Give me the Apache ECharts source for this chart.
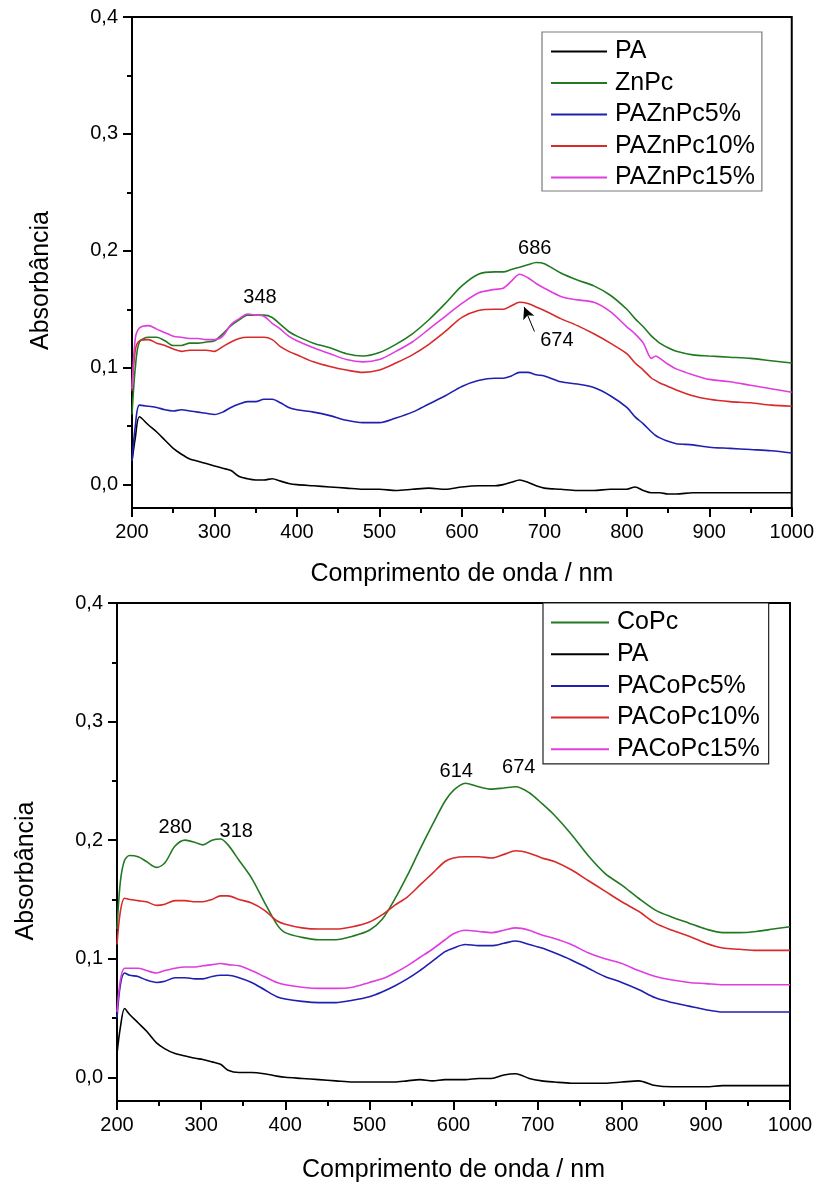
<!DOCTYPE html>
<html>
<head>
<meta charset="utf-8">
<script src="https://cdn.jsdelivr.net/npm/echarts@6/dist/echarts.min.js"></script>
<style>
  html, body { margin: 0; padding: 0; background: #fff; }
  #chart { width: 817px; height: 1184px; }
</style>
</head>
<body>
<div id="chart"></div>
<script>
// ---- UV-Vis spectra, ZnPc series (upper panel) ----
const wlTop = [200,204,209,220,230,240,250,260,270,280,290,300,310,320,330,340,350,360,370,380,390,400,
  420,440,460,480,500,520,540,560,580,600,620,640,650,660,670,680,690,700,720,740,760,780,800,810,820,830,
  835,840,850,860,880,900,925,950,975,1000];
const paTop = [0.020,0.040,0.058,0.051,0.045,0.038,0.031,0.026,0.022,0.020,0.018,0.016,0.014,0.012,0.007,0.005,
  0.004,0.004,0.005,0.003,0.001,0.000,-0.001,-0.002,-0.003,-0.004,-0.004,-0.005,-0.004,-0.003,-0.004,-0.002,
  -0.001,-0.001,0.000,0.002,0.004,0.002,-0.001,-0.003,-0.004,-0.005,-0.005,-0.004,-0.004,-0.002,-0.005,-0.007,
  -0.007,-0.007,-0.008,-0.008,-0.007,-0.007,-0.007,-0.007,-0.007,-0.007];
const znpc = [0.060,0.100,0.122,0.126,0.126,0.123,0.119,0.119,0.121,0.121,0.122,0.123,0.129,0.136,0.141,0.145,
  0.145,0.145,0.143,0.137,0.131,0.127,0.121,0.117,0.112,0.110,0.113,0.120,0.129,0.141,0.155,0.170,0.180,0.182,
  0.182,0.184,0.186,0.188,0.190,0.189,0.181,0.175,0.170,0.162,0.150,0.142,0.135,0.127,0.124,0.121,0.117,0.114,
  0.111,0.110,0.109,0.108,0.106,0.104];
const paZn5 = [0.020,0.050,0.068,0.067,0.066,0.064,0.063,0.064,0.063,0.062,0.061,0.060,0.062,0.066,0.069,0.071,
  0.071,0.073,0.073,0.070,0.066,0.064,0.062,0.059,0.055,0.053,0.053,0.057,0.062,0.069,0.076,0.084,0.089,0.091,
  0.091,0.093,0.096,0.096,0.094,0.093,0.088,0.086,0.083,0.076,0.066,0.058,0.052,0.045,0.042,0.040,0.037,0.035,
  0.034,0.032,0.031,0.030,0.029,0.027];
const paZn10 = [0.080,0.115,0.123,0.124,0.121,0.119,0.116,0.114,0.115,0.115,0.115,0.114,0.118,0.122,0.125,0.126,
  0.126,0.126,0.124,0.118,0.114,0.111,0.105,0.101,0.098,0.096,0.098,0.104,0.111,0.120,0.131,0.143,0.149,0.150,
  0.150,0.153,0.156,0.155,0.152,0.149,0.142,0.136,0.129,0.121,0.112,0.104,0.098,0.091,0.089,0.087,0.084,0.081,
  0.076,0.073,0.071,0.070,0.068,0.067];
const paZn15 = [0.082,0.125,0.134,0.136,0.133,0.130,0.127,0.126,0.125,0.125,0.124,0.124,0.127,0.137,0.142,0.146,
  0.145,0.144,0.138,0.133,0.127,0.123,0.117,0.112,0.107,0.105,0.107,0.114,0.122,0.133,0.144,0.155,0.164,0.167,
  0.168,0.174,0.180,0.177,0.172,0.168,0.161,0.158,0.156,0.148,0.135,0.129,0.121,0.108,0.110,0.108,0.103,0.099,
  0.094,0.090,0.088,0.085,0.082,0.079];

// ---- UV-Vis spectra, CoPc series (lower panel) ----
const wlBot = [200,204,209,215,225,235,247,257,269,281,293,302,313,323,332,345,360,375,390,400,420,440,460,480,
  500,515,530,545,560,575,590,600,614,630,645,660,674,690,705,720,740,760,780,800,820,840,860,880,900,920,940,
  960,980,1000];
const copc = [0.125,0.165,0.183,0.187,0.186,0.182,0.177,0.181,0.195,0.200,0.198,0.196,0.200,0.201,0.196,0.183,
  0.168,0.148,0.129,0.122,0.118,0.116,0.116,0.119,0.124,0.133,0.150,0.170,0.192,0.213,0.233,0.242,0.248,0.245,
  0.243,0.244,0.245,0.240,0.231,0.221,0.205,0.187,0.172,0.162,0.151,0.141,0.135,0.130,0.125,0.122,0.122,0.123,
  0.125,0.127];
const paBot = [0.020,0.042,0.058,0.053,0.046,0.039,0.029,0.024,0.020,0.018,0.016,0.015,0.013,0.011,0.006,0.004,
  0.004,0.003,0.001,0.000,-0.001,-0.002,-0.003,-0.004,-0.004,-0.004,-0.004,-0.003,-0.002,-0.003,-0.002,-0.002,
  -0.002,-0.001,-0.001,0.002,0.003,-0.001,-0.003,-0.004,-0.005,-0.005,-0.005,-0.004,-0.003,-0.007,-0.008,-0.008,
  -0.008,-0.007,-0.007,-0.007,-0.007,-0.007];
const paCo5 = [0.050,0.078,0.088,0.086,0.085,0.082,0.080,0.081,0.084,0.084,0.083,0.083,0.085,0.086,0.086,0.084,
  0.080,0.074,0.068,0.066,0.064,0.063,0.063,0.065,0.068,0.072,0.077,0.083,0.090,0.098,0.106,0.109,0.112,0.111,
  0.111,0.113,0.115,0.112,0.109,0.105,0.099,0.092,0.085,0.080,0.074,0.067,0.063,0.060,0.057,0.055,0.055,0.055,
  0.055,0.055];
const paCo10 = [0.112,0.140,0.151,0.150,0.149,0.148,0.145,0.146,0.149,0.149,0.148,0.148,0.150,0.153,0.153,0.150,
  0.147,0.141,0.132,0.129,0.126,0.125,0.125,0.127,0.131,0.137,0.145,0.152,0.162,0.172,0.182,0.185,0.186,0.186,
  0.185,0.188,0.191,0.189,0.185,0.182,0.175,0.166,0.157,0.148,0.140,0.130,0.124,0.119,0.113,0.109,0.108,0.107,
  0.107,0.107];
const paCo15 = [0.055,0.082,0.092,0.092,0.092,0.090,0.088,0.090,0.092,0.093,0.093,0.094,0.095,0.096,0.095,0.094,
  0.090,0.085,0.080,0.078,0.076,0.075,0.075,0.076,0.080,0.083,0.088,0.094,0.101,0.108,0.116,0.121,0.124,0.123,
  0.122,0.124,0.126,0.124,0.120,0.117,0.112,0.105,0.100,0.096,0.090,0.085,0.082,0.080,0.079,0.078,0.078,0.078,
  0.078,0.078];

// axis ticks
const xTicks = [200, 300, 400, 500, 600, 700, 800, 900, 1000];
const yTicks = [0, 0.1, 0.2, 0.3, 0.4];
const yMinorTicks = [0.05, 0.15, 0.25, 0.35];

// band maxima labels (wavelength in nm)
const peaksTop = [
  { nm: 348, series: 'ZnPc' },
  { nm: 686, series: 'ZnPc' },
  { nm: 674, series: 'PAZnPc10%' }
];
const peaksBot = [
  { nm: 280, series: 'CoPc' },
  { nm: 318, series: 'CoPc' },
  { nm: 614, series: 'CoPc' },
  { nm: 674, series: 'CoPc' }
];

const FONT = "'Liberation Sans', Arial, sans-serif";
const COLORS = { black: '#000000', green: '#217a21', blue: '#1f1fb0', red: '#d82a2a', magenta: '#e03ce0' };

function pairs(xs, ys) { return xs.map((x, i) => [x, ys[i]]); }
function valueAt(xs, ys, x) {
  for (let i = 0; i < xs.length - 1; i++) {
    if (x >= xs[i] && x <= xs[i + 1]) {
      const t = (x - xs[i]) / (xs[i + 1] - xs[i]);
      return ys[i] + t * (ys[i + 1] - ys[i]);
    }
  }
  return ys[ys.length - 1];
}

const commaFmt = v => v.toFixed(1).replace('.', ',');

function xAxisFor(gridIndex, gap) {
  return {
    type: 'value', gridIndex, min: 200, max: 1000, interval: 100,
    axisLine: { show: true, onZero: false, lineStyle: { color: '#000', width: 2 } },
    axisTick: { show: true, length: 9, customValues: xTicks, lineStyle: { color: '#000', width: 2 } },
    minorTick: { show: true, splitNumber: 2, length: 5, lineStyle: { color: '#000', width: 2 } },
    splitLine: { show: false },
    axisLabel: { color: '#000', fontSize: 20, fontFamily: FONT, margin: 14, customValues: xTicks, formatter: v => String(v) },
    name: 'Comprimento de onda / nm', nameLocation: 'middle', nameGap: gap,
    nameTextStyle: { color: '#000', fontSize: 25, fontFamily: FONT }
  };
}
function yAxisFor(gridIndex, shift) {
  return {
    type: 'value', gridIndex, min: -0.02, max: 0.4, position: 'left',
    axisLine: { show: true, onZero: false, lineStyle: { color: '#000', width: 2 } },
    axisTick: { show: true, length: 9, customValues: yTicks, lineStyle: { color: '#000', width: 2 } },
    splitLine: { show: false },
    axisLabel: { color: '#000', fontSize: 20, fontFamily: FONT, margin: 14, customValues: yTicks, formatter: commaFmt },
    name: 'Absorbância', nameLocation: 'middle', nameGap: 78,
    nameTextStyle: { color: '#000', fontSize: 25, fontFamily: FONT, padding: [0, shift, 0, 0] }
  };
}
function yMinorFor(gridIndex) {
  return {
    type: 'value', gridIndex, min: -0.02, max: 0.4, position: 'left', offset: 0,
    axisLine: { show: false },
    axisTick: { show: true, length: 5, customValues: yMinorTicks, lineStyle: { color: '#000', width: 2 } },
    axisLabel: { show: false },
    splitLine: { show: false }
  };
}

function lineSeries(name, xs, ys, color, gi, extra) {
  return Object.assign({
    name, type: 'line', xAxisIndex: gi, yAxisIndex: gi * 2,
    data: pairs(xs, ys), showSymbol: false, symbol: 'none', smooth: 0.3,
    lineStyle: { color, width: 1.6 }, itemStyle: { color }, z: 3
  }, extra || {});
}

// label placement for the band maxima (screen offsets from the peak point)
const labelOffsets = {
  top: { 348: [6, -18], 686: [2, -15], 674: [34, 38] },
  bot: { 280: [-9, -13], 318: [20, -8], 614: [-9, -12], 674: [3, -19] }
};

function peakMarks(peaks, panel, seriesName, xs, ys) {
  return peaks.filter(p => p.series === seriesName).map(p => ({
    coord: [p.nm, valueAt(xs, ys, p.nm)],
    symbol: 'circle', symbolSize: 0,
    label: {
      show: true, formatter: String(p.nm), color: '#000', fontSize: 20, fontFamily: FONT,
      position: 'inside', offset: labelOffsets[panel][p.nm]
    }
  }));
}

const series = [
  lineSeries('PA', wlTop, paTop, COLORS.black, 0),
  lineSeries('ZnPc', wlTop, znpc, COLORS.green, 0, {
    markPoint: { silent: true, data: peakMarks(peaksTop, 'top', 'ZnPc', wlTop, znpc) }
  }),
  lineSeries('PAZnPc5%', wlTop, paZn5, COLORS.blue, 0),
  lineSeries('PAZnPc10%', wlTop, paZn10, COLORS.red, 0, {
    markPoint: { silent: true, data: peakMarks(peaksTop, 'top', 'PAZnPc10%', wlTop, paZn10) },
    markLine: {
      silent: true, symbol: ['none', 'arrow'], symbolSize: [9, 12],
      lineStyle: { color: '#000', width: 1, type: 'solid' }, label: { show: false },
      data: [[{ coord: [688, 0.131] }, { coord: [675.5, 0.152] }]]
    }
  }),
  lineSeries('PAZnPc15%', wlTop, paZn15, COLORS.magenta, 0),

  lineSeries('CoPc', wlBot, copc, COLORS.green, 1, {
    markPoint: { silent: true, data: peakMarks(peaksBot, 'bot', 'CoPc', wlBot, copc) }
  }),
  lineSeries('PA', wlBot, paBot, COLORS.black, 1),
  lineSeries('PACoPc5%', wlBot, paCo5, COLORS.blue, 1),
  lineSeries('PACoPc10%', wlBot, paCo10, COLORS.red, 1),
  lineSeries('PACoPc15%', wlBot, paCo15, COLORS.magenta, 1)
];

function legendFor(names, left, top, iconW, gap, border, padding) {
  return {
    data: names, orient: 'vertical', left, top, selectedMode: false,
    icon: 'rect', itemWidth: iconW, itemHeight: 2, itemGap: gap,
    backgroundColor: '#fff', borderColor: border, borderWidth: 1.2, borderRadius: 0,
    padding,
    textStyle: { color: '#000', fontSize: 25, fontFamily: FONT, lineHeight: 25, padding: [0, 0, 0, 3] }
  };
}

const chart = echarts.init(document.getElementById('chart'), null, { renderer: 'canvas' });
chart.setOption({
  animation: false,
  backgroundColor: '#fff',
  grid: [
    { left: 132, top: 17, width: 660, height: 491, show: true, borderColor: '#000', borderWidth: 2, backgroundColor: 'transparent' },
    { left: 117, top: 603, width: 673, height: 500, show: true, borderColor: '#000', borderWidth: 2, backgroundColor: 'transparent' }
  ],
  xAxis: [xAxisFor(0, 54), xAxisFor(1, 57)],
  yAxis: [yAxisFor(0, 36), yMinorFor(0), yAxisFor(1, 38), yMinorFor(1)],
  legend: [
    legendFor(['PA', 'ZnPc', 'PAZnPc5%', 'PAZnPc10%', 'PAZnPc15%'], 542, 32, 56, 6.5, '#7a7a7a', [7, 7, 1, 9]),
    legendFor(['CoPc', 'PA', 'PACoPc5%', 'PACoPc10%', 'PACoPc15%'], 543, 603, 58, 6.7, '#222', [7, 9, 2, 8])
  ],
  series
});
</script>
</body>
</html>
